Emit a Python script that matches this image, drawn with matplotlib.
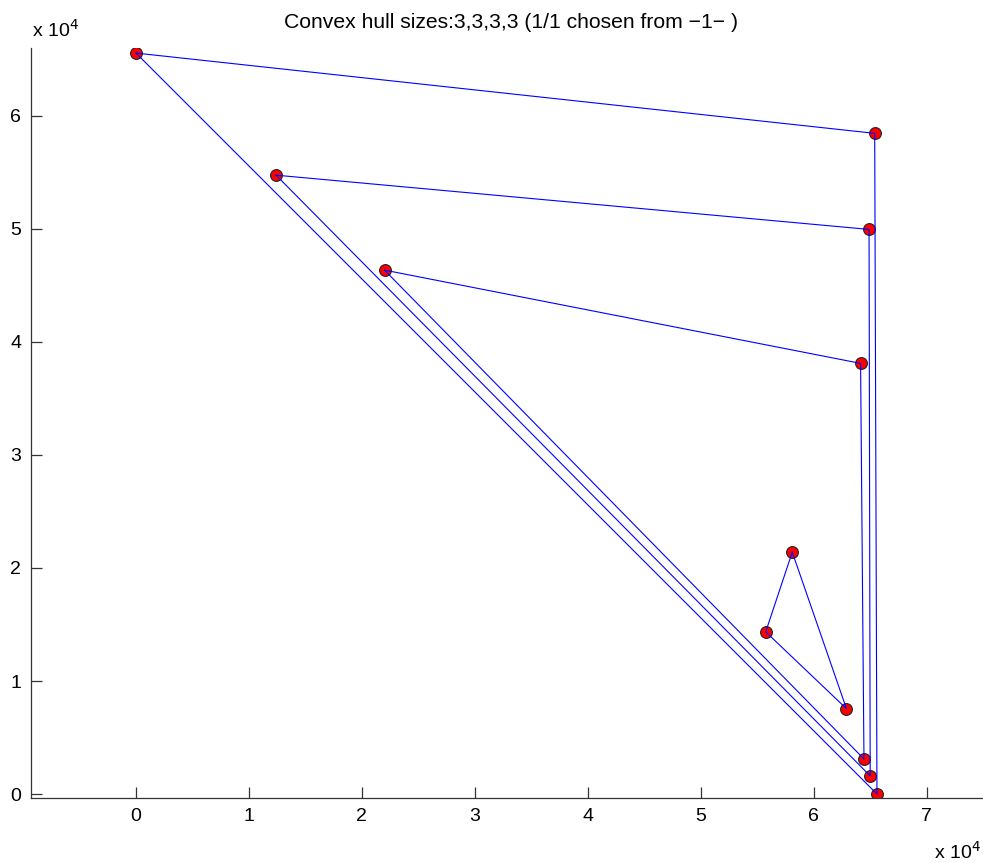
import numpy as np
from matplotlib import pyplot as plt

plt.rcParams['font.family'] = ['Liberation Sans', 'DejaVu Sans']

# hull vertices, in units of 1e4 (each triangle listed in drawing order)
hull1_x = [0.00, 6.54, 6.56]
hull1_y = [6.555, 5.845, 0.00]
hull2_x = [1.24, 6.49, 6.50]
hull2_y = [5.475, 4.995, 0.16]
hull3_x = [2.20, 6.415, 6.445]
hull3_y = [4.635, 3.81, 0.31]
hull4_x = [5.81, 5.575, 6.29]
hull4_y = [2.14, 1.435, 0.755]

hulls = [(hull1_x, hull1_y), (hull2_x, hull2_y), (hull3_x, hull3_y), (hull4_x, hull4_y)]

fig = plt.figure(figsize=(9.83, 8.63), dpi=100)
ax = fig.add_axes([31 / 983, 65 / 863, 951 / 983, 750 / 863])

for hx, hy in hulls:
    ax.scatter(hx, hy, s=72, c='red', edgecolors='#222222', linewidths=0.8, zorder=2)
    ax.plot(hx + hx[:1], hy + hy[:1], color='blue', lw=0.8, zorder=3)

ax.set_xlim(-0.93, 7.49)
ax.set_ylim(-0.035, 6.6)
ax.set_xticks(range(0, 8))
ax.set_yticks(range(0, 7))
ax.spines['top'].set_visible(False)
ax.spines['right'].set_visible(False)
for s in ['left', 'bottom']:
    ax.spines[s].set_color('#333333')
    ax.spines[s].set_linewidth(0.9)
ax.tick_params(direction='in', length=8, width=0.9, colors='#333333', labelcolor='black',
               labelsize=14, pad=7)

fig.text(511 / 983, 1 - 28 / 863, 'Convex hull sizes:3,3,3,3 (1/1 chosen from \u22121\u2212 )',
         fontsize=15.2, ha='center', va='baseline')
fig.text(32 / 983, 1 - 37 / 863, r'x 10$^{4}$', fontsize=14, ha='left', va='baseline')
fig.text(981 / 983, 1 - 859 / 863, r'x 10$^{4}$', fontsize=14, ha='right', va='baseline')

fig.savefig('out.png', dpi=100)
